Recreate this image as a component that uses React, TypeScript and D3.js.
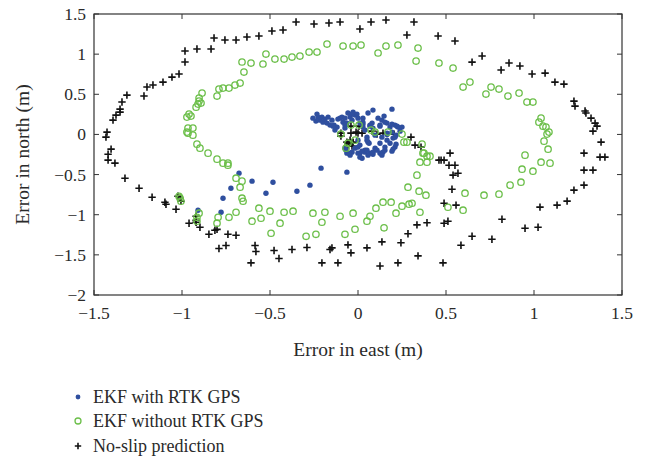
import React from "react";
import * as d3 from "d3";

const xTicks = [-1.5, -1, -0.5, 0, 0.5, 1, 1.5];
const yTicks = [1.5, 1, 0.5, 0, -0.5, -1, -1.5, -2];
const seriesNames = ["EKF with RTK GPS", "EKF without RTK GPS", "No-slip prediction"];

const ekfRtk: [number, number][] = [
  [-0.909, -0.944], [-0.778, -0.969], [-0.767, -0.794], [-0.722, -0.67], [-0.676, -0.482],
  [-0.602, -0.582], [-0.523, -0.732], [-0.483, -0.595], [-0.347, -0.707], [-0.273, -0.632],
  [-0.21, -0.42], [-0.063, -0.47],
  [-0.233, 0.253], [-0.227, 0.216], [-0.216, 0.178], [-0.239, 0.166], [-0.199, 0.153],
  [-0.176, 0.141], [-0.17, 0.216], [-0.148, 0.178], [-0.136, 0.116], [-0.119, 0.091],
  [-0.159, 0.116], [-0.205, 0.216], [-0.091, 0.216], [-0.085, 0.153], [-0.057, 0.266],
  [-0.045, 0.216], [-0.034, 0.178], [-0.017, 0.241], [0.0, 0.203], [0.011, 0.141],
  [-0.028, 0.278], [-0.006, 0.253], [0.028, 0.153], [0.028, 0.091], [-0.063, 0.141],
  [-0.074, 0.079], [0.085, 0.303], [0.193, 0.315], [0.068, 0.116], [0.085, 0.079],
  [0.125, 0.116], [0.165, 0.141], [0.182, 0.091], [0.21, 0.116], [0.227, 0.091],
  [0.193, 0.029], [0.165, 0.016], [0.136, -0.034], [0.165, -0.071], [0.199, -0.046],
  [0.182, -0.109], [0.21, -0.158], [0.125, -0.109], [0.097, -0.171], [0.142, -0.221],
  [0.068, -0.233], [0.04, -0.196], [0.011, -0.233], [0.023, -0.296], [0.057, -0.096],
  [0.051, -0.034], [0.097, -0.009], [-0.017, -0.171], [-0.034, -0.221], [0.0, -0.158],
  [-0.063, -0.233], [-0.074, -0.171], [-0.102, 0.203], [0.028, 0.203], [0.08, 0.141],
  [0.136, 0.178], [0.222, 0.103], [0.153, -0.158], [0.125, -0.233], [0.085, -0.246],
  [0.04, -0.221], [0.011, -0.283], [0.063, -0.109], [0.011, -0.133], [-0.068, -0.196],
  [-0.045, -0.258], [-0.051, -0.233], [0.0, -0.233], [0.057, -0.258], [0.085, -0.221],
  [0.136, -0.258], [0.193, -0.208], [0.25, 0.091], [0.239, 0.041], [0.216, -0.009],
  [-0.256, 0.203], [-0.188, 0.191], [-0.131, 0.054], [0.04, 0.054], [0.114, 0.203],
  [0.148, 0.228], [0.057, 0.266], [-0.142, 0.103], [-0.114, 0.191], [-0.074, 0.203],
  [-0.034, 0.253], [-0.074, 0.116], [0.028, 0.128], [0.068, 0.103], [0.125, 0.103],
  [0.153, 0.153], [0.193, 0.128], [0.165, 0.0], [0.21, -0.034], [0.216, -0.121],
  [0.051, -0.071], [0.0, -0.071], [0.051, -0.196], [0.108, -0.196], [0.153, -0.196],
  [0.199, -0.183], [0.023, -0.208],
];

const ekfNoRtk: [number, number][] = [
  [-0.972, 0.216], [-0.96, 0.253], [-0.949, 0.228], [-0.972, 0.029], [-0.966, 0.079],
  [-0.938, 0.079], [-0.966, 0.016], [-0.938, -0.009], [-0.915, -0.121], [-0.898, -0.171],
  [-0.852, -0.233], [-0.801, -0.308], [-0.92, 0.34], [-0.909, 0.378], [-0.903, 0.415],
  [-0.892, 0.39], [-0.903, 0.453], [-0.886, 0.515], [-0.801, 0.478], [-0.79, 0.565],
  [-0.767, 0.577], [-0.733, 0.577], [-0.699, 0.615], [-0.67, 0.64], [-0.648, 0.777],
  [-0.659, 0.902], [-0.608, 0.889], [-0.54, 0.877], [-0.523, 1.001], [-0.472, 0.939],
  [-0.42, 0.939], [-0.375, 0.964], [-0.33, 0.976], [-0.278, 1.026], [-0.233, 1.026],
  [-0.176, 1.126], [-0.085, 1.101], [-0.028, 1.101], [0.017, 1.113], [0.114, 1.014],
  [0.159, 1.101], [0.227, 1.113], [0.33, 0.914], [0.341, 1.076], [0.46, 0.889],
  [0.54, 0.827], [0.597, 0.59], [0.636, 0.652], [0.727, 0.503], [0.756, 0.59],
  [0.801, 0.565], [0.852, 0.478], [0.915, 0.515], [0.96, 0.403], [0.994, 0.403],
  [1.04, 0.203], [1.028, 0.153], [1.051, 0.103], [1.068, 0.091], [1.085, 0.029],
  [1.074, 0.004], [1.057, -0.084], [1.08, -0.184], [0.949, -0.258], [1.04, -0.346],
  [1.091, -0.358], [0.932, -0.433], [0.994, -0.458], [0.926, -0.595], [0.864, -0.632],
  [0.801, -0.744], [0.716, -0.757], [0.608, -0.732], [0.597, -0.944], [0.511, -0.907],
  [0.352, -0.969], [0.386, -0.757], [0.347, -0.707], [0.284, -0.657], [0.335, -0.507],
  [0.352, -0.346], [0.392, -0.346], [0.369, -0.233], [0.392, -0.271], [0.409, -0.271],
  [0.307, -0.857], [0.29, -0.869], [0.25, -0.894], [0.216, -0.981], [0.188, -0.844],
  [0.142, -0.844], [0.102, -0.919], [0.068, -1.019], [0.051, -1.081], [0.148, -1.163],
  [-0.017, -1.181], [-0.074, -1.244], [-0.028, -0.981], [-0.102, -1.019], [-0.188, -0.969],
  [-0.205, -1.094], [-0.239, -1.244], [-0.256, -0.981], [-0.295, -1.269], [-0.369, -0.956],
  [-0.42, -0.969], [-0.443, -1.106], [-0.494, -1.231], [-0.5, -0.956], [-0.551, -1.044],
  [-0.563, -0.919], [-0.602, -1.081], [-0.653, -0.832], [-0.659, -0.794], [-0.693, -0.969],
  [-0.733, -1.032], [-0.795, -1.032], [-0.801, -1.106], [-0.693, -0.545], [-0.659, -0.582],
  [-0.67, -0.657], [-0.767, -0.358], [-0.739, -0.358], [-0.739, -0.383], [-0.903, -0.981],
  [-0.915, -1.032], [-0.915, -1.081], [-1.017, -0.77], [-1.011, -0.794], [-1.006, -0.832],
  [0.074, 0.054], [0.097, 0.029], [0.17, 0.029], [0.25, 0.004], [0.261, -0.096],
  [0.278, -0.096], [0.364, -0.121], [0.375, -0.233], [-0.097, 0.004], [-0.04, 0.116],
  [0.006, 0.116], [-0.057, -0.109], [-0.017, -0.071], [-0.068, -0.171],
];

const noSlip: [number, number][] = [
  [-1.432, -0.034], [-1.426, 0.029], [-1.42, -0.246], [-1.403, -0.183], [-1.392, 0.178],
  [-1.375, 0.241], [-1.352, 0.278], [-1.352, 0.315], [-1.341, 0.403], [-1.313, 0.49],
  [-1.216, 0.478], [-1.199, 0.59], [-1.165, 0.615], [-1.108, 0.652], [-1.057, 0.714],
  [-1.017, 0.752], [-0.983, 0.902], [-0.983, 1.039], [-0.915, 1.064], [-0.835, 1.064],
  [-0.818, 1.201], [-0.756, 1.176], [-0.693, 1.176], [-0.631, 1.213], [-0.563, 1.226],
  [-0.489, 1.288], [-0.426, 1.3], [-0.352, 1.4], [-0.25, 1.375], [-0.165, 1.388],
  [-0.102, 1.4], [0.011, 1.313], [0.074, 1.4], [0.159, 1.425], [0.318, 1.4],
  [0.278, 1.238], [0.455, 1.226], [0.551, 1.163], [0.648, 0.901], [0.705, 0.976],
  [0.813, 0.802], [0.858, 0.889], [0.92, 0.852], [0.989, 0.752], [1.063, 0.764],
  [1.119, 0.652], [1.17, 0.627], [1.227, 0.415], [1.233, 0.353], [1.29, 0.291],
  [1.295, 0.266], [1.324, 0.203], [1.347, 0.141], [1.358, 0.103], [1.335, 0.041],
  [1.381, -0.096], [1.284, -0.233], [1.375, -0.283], [1.403, -0.283], [1.284, -0.445],
  [1.335, -0.445], [1.284, -0.632], [1.227, -0.694], [1.188, -0.831], [1.131, -0.881],
  [1.034, -0.906], [1.023, -1.156], [0.949, -1.168], [0.818, -1.056], [0.761, -1.306],
  [0.648, -1.268], [0.585, -1.381], [0.392, -1.101], [0.335, -1.126], [0.284, -1.238],
  [0.244, -1.35], [0.136, -1.338], [0.051, -1.413], [-0.04, -1.475], [-0.057, -1.376],
  [-0.148, -1.413], [0.341, -1.513], [0.227, -1.6], [0.125, -1.638], [-0.114, -1.6],
  [-0.205, -1.6], [0.483, -1.6], [0.472, -0.32], [0.489, -0.32], [0.523, -0.233],
  [0.517, -0.383], [0.551, -0.383], [0.54, -0.507], [0.568, -0.483], [0.534, -0.682],
  [0.557, -0.881], [0.489, -0.857], [0.511, -1.081], [0.489, -1.106],
  [-1.42, -0.32], [-1.381, -0.358], [-1.324, -0.545], [-1.244, -0.67], [-1.17, -0.782],
  [-1.097, -0.845], [-1.091, -0.869], [-1.034, -0.932], [-1.023, -0.77], [-1.011, -0.794],
  [-1.006, -0.832], [-0.92, -1.019], [-0.92, -1.069], [-0.96, -1.106], [-0.92, -1.094],
  [-0.898, -1.156], [-0.847, -1.244], [-0.813, -1.194], [-0.801, -1.182], [-0.79, -1.42],
  [-0.75, -1.383], [-0.739, -1.244], [-0.693, -1.256], [-0.608, -1.6], [-0.585, -1.383],
  [-0.58, -1.458], [-0.477, -1.445], [-0.449, -1.545], [-0.375, -1.433], [-0.29, -1.408],
  [-0.159, -1.433],
  [-0.097, 0.016], [-0.097, -0.021], [-0.04, 0.103], [0.006, 0.103], [-0.04, 0.016],
  [-0.011, 0.029], [0.0, 0.016], [0.023, 0.016], [-0.063, -0.096], [-0.057, -0.109],
  [-0.045, -0.071], [-0.028, -0.096], [-0.057, -0.133], [-0.034, -0.146], [0.08, 0.041],
  [0.108, 0.004], [0.142, 0.016], [0.205, 0.004], [0.301, -0.034], [0.324, -0.133],
  [0.358, -0.158], [0.46, -0.32],
];

const W = 648;
const H = 462;
const L = 94, R = 622, T = 14, B = 295;
const FONT = "'Liberation Serif', 'DejaVu Serif', serif";
const BLUE = "#2f4f9f";
const GREEN = "#6cbf4a";
const BLACK = "#111";
const TXT = "#2a2a2a";

const fmt = (v: number) => (v < 0 ? "\u2212" + String(Math.abs(v)) : String(v));

function Plus({ x, y, s = 3.7 }: { x: number; y: number; s?: number }) {
  return (
    <path d={`M${x - s},${y}H${x + s}M${x},${y - s}V${y + s}`} stroke={BLACK} strokeWidth={1.6} fill="none" />
  );
}

export default function App() {
  const x = d3.scaleLinear().domain([-1.5, 1.5]).range([L, R]);
  const y = d3.scaleLinear().domain([-2, 1.5]).range([B, T]);
  const tk = 5;
  const legendY = [397, 421, 446];
  const lx = 78;
  return (
    <div style={{ position: "absolute", left: 0, top: 0 }}>
      <svg width={W} height={H} style={{ display: "block", background: "#fff" }} fontFamily={FONT}>
        <g>
          {noSlip.map((d, i) => (
            <Plus key={"k" + i} x={x(d[0])} y={y(d[1])} />
          ))}
          {ekfRtk.map((d, i) => (
            <circle key={"b" + i} cx={x(d[0])} cy={y(d[1])} r={2.7} fill={BLUE} />
          ))}
          {ekfNoRtk.map((d, i) => (
            <circle key={"g" + i} cx={x(d[0])} cy={y(d[1])} r={3.2} fill="none" stroke={GREEN} strokeWidth={1.3} />
          ))}
        </g>
        <rect x={L} y={T} width={R - L} height={B - T} fill="none" stroke="#333" strokeWidth={1.2} />
        {xTicks.map((t) => (
          <g key={"xt" + t}>
            <line x1={x(t)} x2={x(t)} y1={B} y2={B - tk} stroke="#333" strokeWidth={1} />
            <line x1={x(t)} x2={x(t)} y1={T} y2={T + tk} stroke="#333" strokeWidth={1} />
            <text x={x(t)} y={319} textAnchor="middle" fontSize={17.5} fill={TXT}>
              {fmt(t)}
            </text>
          </g>
        ))}
        {yTicks.map((t) => (
          <g key={"yt" + t}>
            <line x1={L} x2={L + tk} y1={y(t)} y2={y(t)} stroke="#333" strokeWidth={1} />
            <line x1={R} x2={R - tk} y1={y(t)} y2={y(t)} stroke="#333" strokeWidth={1} />
            <text x={86} y={y(t) + 6} textAnchor="end" fontSize={17.5} fill={TXT}>
              {fmt(t)}
            </text>
          </g>
        ))}
        <text x={(L + R) / 2} y={356} textAnchor="middle" fontSize={19.5} fill={TXT}>
          Error in east (m)
        </text>
        <text
          transform={`translate(29,${(T + B) / 2}) rotate(-90)`}
          textAnchor="middle"
          fontSize={19.5}
          fill={TXT}
        >
          Error in north (m)
        </text>
        <g>
          <circle cx={lx} cy={legendY[0]} r={2.4} fill={BLUE} />
          <circle cx={lx} cy={legendY[1]} r={3} fill="none" stroke={GREEN} strokeWidth={1.3} />
          <Plus x={lx} y={legendY[2]} s={3.2} />
          {seriesNames.map((n, i) => (
            <text key={n} x={93} y={legendY[i] + 6} fontSize={18} fill={TXT}>
              {n}
            </text>
          ))}
        </g>
      </svg>
    </div>
  );
}
